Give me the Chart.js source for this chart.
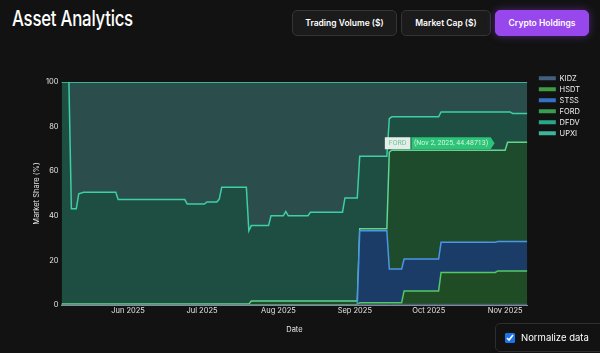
<!DOCTYPE html>
<html>
<head>
<meta charset="utf-8">
<title>Asset Analytics</title>
<script src="https://cdn.jsdelivr.net/npm/chart.js@4.4.1/dist/chart.umd.min.js"></script>
<style>
  body {
    margin: 0;
    width: 600px;
    height: 353px;
    overflow: hidden;
    position: relative;
    background: #121212;
    font-family: Inter, "Noto Sans", sans-serif;
    color: #fff;
  }
  h1 {
    position: absolute;
    left: 12px;
    top: 6px;
    margin: 0;
    font-size: 21px;
    font-weight: 500;
    letter-spacing: -0.3px;
    transform: scaleX(0.8);
    transform-origin: left center;
    white-space: nowrap;
  }
  .btns {
    position: absolute;
    top: 10px;
    left: 292px;
    display: flex;
    gap: 4px;
  }
  .btn {
    box-sizing: border-box;
    height: 26px;
    border: 1px solid #343434;
    border-radius: 5px;
    background: #1b1b1b;
    color: #fff;
    font-size: 8.5px;
    font-weight: 600;
    white-space: nowrap;
    display: flex;
    align-items: center;
    justify-content: center;
  }
  .btn.active {
    background: #9747ec;
    border-color: #9747ec;
    box-shadow: 0 0 8px rgba(151, 71, 236, 0.45);
  }
  #wrap {
    position: absolute;
    left: 0;
    top: 60px;
    width: 600px;
    height: 285px;
  }
  .norm {
    position: absolute;
    left: 495px;
    top: 323px;
    width: 120px;
    height: 27px;
    border: 1px solid #2e2e2e;
    border-radius: 5px;
    display: flex;
    align-items: center;
    font-size: 9.5px;
  }
  .norm input {
    margin: 0 6px 0 9px;
    width: 10px;
    height: 10px;
    accent-color: #1a73e8;
  }
</style>
</head>
<body>
<h1>Asset Analytics</h1>
<div class="btns">
  <div class="btn" style="width:105px">Trading Volume ($)</div>
  <div class="btn" style="width:90px">Market Cap ($)</div>
  <div class="btn active" style="width:94px">Crypto Holdings</div>
</div>
<div id="wrap"><canvas id="holdingsChart"></canvas></div>
<label class="norm"><input type="checkbox" checked>Normalize data</label>

<script>
// share of holdings (%), one value per date, stacked bottom -> top
const dates = [
  '2025-05-05', '2025-05-08', '2025-05-09', '2025-05-11', '2025-05-12', '2025-05-14',
  '2025-05-27', '2025-05-28', '2025-06-24', '2025-06-25', '2025-07-02', '2025-07-03',
  '2025-07-07', '2025-07-08', '2025-07-09', '2025-07-19', '2025-07-20', '2025-07-21',
  '2025-07-28', '2025-07-29', '2025-08-03', '2025-08-04', '2025-08-05', '2025-08-13',
  '2025-08-14', '2025-08-27', '2025-08-28', '2025-09-02', '2025-09-03', '2025-09-14',
  '2025-09-15', '2025-09-16', '2025-09-20', '2025-09-21', '2025-10-05', '2025-10-06',
  '2025-10-28', '2025-10-29', '2025-11-01', '2025-11-02', '2025-11-03', '2025-11-04',
  '2025-11-10'
];
const assets = ['KIDZ', 'HSDT', 'STSS', 'FORD', 'DFDV', 'UPXI'];

const kidz = [0, 0, 0, 0, 0, 0, 0, 0, 0, 0, 0, 0, 0, 0, 0, 0, 0, 0, 0, 0, 0, 0, 0, 0, 0, 0, 0, 0,
  0.3, 0.3, 0.3, 0.3, 0.3, 0.3, 0.3, 0.3, 0.3, 0.3, 0.3, 0.3, 0.3, 0.3, 0.3];
const hsdt = [0, 0, 0, 0, 0, 0, 0, 0, 0, 0, 0, 0, 0, 0, 0, 0, 0, 0, 0, 0, 0, 0, 0, 0, 0, 0, 0, 0,
  0.7, 0.7, 0.7, 0.7, 0.7, 6.0, 6.0, 14.3, 14.3, 15.0, 15.0, 15.0, 15.0, 15.0, 15.0];
const stss = [0, 0, 0, 0, 0, 0, 0, 0, 0, 0, 0, 0, 0, 0, 0, 0, 0, 0, 0, 0, 0, 0, 0, 0, 0, 0, 0, 0,
  32.3, 32.3, 15.1, 15.1, 15.1, 14.3, 14.3, 13.5, 13.5, 13.2, 13.2, 13.2, 13.2, 13.2, 13.2];
const ford = [0.4, 0.4, 0.4, 0.4, 0.4, 0.4, 0.4, 0.4, 0.4, 0.4, 0.4, 0.4, 0.4, 0.4, 0.4, 0.4, 0.4,
  1.8, 1.8, 1.8, 1.8, 1.8, 1.8, 1.8, 1.8, 1.8, 1.8, 1.8,
  0.9, 0.9, 52.5, 53.3, 53.3, 48.8, 48.8, 41.3, 41.3, 40.9, 40.9, 44.48713, 44.5, 44.5, 44.5];
const dfdv = [99.6, 99.6, 42.8, 42.8, 49.5, 50.2, 50.2, 46.9, 46.9, 44.9, 44.9, 45.8, 45.8, 47.1,
  52.4, 52.4, 32.9, 33.8, 33.8, 38.2, 38.2, 40.1, 38.2, 38.2, 39.8, 39.8, 46.2, 46.2,
  32.5, 32.5, 15.0, 15.0, 15.0, 15.0, 15.0, 17.2, 17.2, 17.2, 17.2, 13.6, 13.6, 12.9, 12.9];
const upxi = [0, 0, 56.8, 56.8, 50.1, 49.4, 49.4, 52.7, 52.7, 54.7, 54.7, 53.8, 53.8, 52.5,
  47.2, 47.2, 66.7, 64.4, 64.4, 60, 60, 58.1, 60, 60, 58.4, 58.4, 52, 52,
  33.3, 33.3, 16.4, 15.6, 15.6, 15.6, 15.6, 13.4, 13.4, 13.4, 13.4, 13.4, 13.4, 14.1, 14.1];

const monthTicks = ['2025-06-01', '2025-07-01', '2025-08-01', '2025-09-01', '2025-10-01', '2025-11-01'];
const yTicks = [0, 20, 40, 60, 80, 100];
const rangeStart = '2025-05-05';
const rangeEnd = '2025-11-10';
const hoverAsset = 'FORD';
const hoverDate = '2025-11-02';

const lineColors = ['#4f6f92', '#56c66a', '#4b97e6', '#62d690', '#3dcfa6', '#44d4b6'];
const fillColors = ['#1c2a38', '#1f4c25', '#1b3c66', '#1f4b2d', '#1e4e42', '#2b4e4c'];
const legendColors = ['#40607e', '#3f9c45', '#3572c6', '#3a9c52', '#2aa68b', '#3fb39c'];

const MONTHS = ['Jan', 'Feb', 'Mar', 'Apr', 'May', 'Jun', 'Jul', 'Aug', 'Sep', 'Oct', 'Nov', 'Dec'];
const DAY = 86400000;
const toDay = s => Date.parse(s + 'T00:00:00Z') / DAY;
const fmtMonth = d => {
    const dt = new Date(d * DAY);
    return MONTHS[dt.getUTCMonth()] + ' ' + dt.getUTCFullYear();
};

const series = [kidz, hsdt, stss, ford, dfdv, upxi];

Chart.defaults.font.family = 'Inter, "Noto Sans", sans-serif';
Chart.defaults.color = '#dcdcdc';

// little hover label, like the one on the screenshot
const hoverLabel = {
    id: 'hoverLabel',
    afterDraw(chart) {
        const ds = assets.indexOf(hoverAsset);
        const i = dates.indexOf(hoverDate);
        const pt = chart.getDatasetMeta(ds).data[i];
        if (!pt) return;
        const ctx = chart.ctx;
        const dt = new Date(toDay(hoverDate) * DAY);
        const text = '(' + MONTHS[dt.getUTCMonth()] + ' ' + dt.getUTCDate() + ', ' + dt.getUTCFullYear() + ', ' + series[ds][i] + ')';
        ctx.save();
        ctx.font = '7px Roboto';
        ctx.textBaseline = 'middle';
        const tw = ctx.measureText(text).width + 5;
        const nw = ctx.measureText(hoverAsset).width + 8;
        const h = 12;
        const tip = pt.x - 13;
        const right = tip - 4;
        const y = pt.y + 1;
        ctx.fillStyle = '#2cc477';
        ctx.beginPath();
        ctx.moveTo(right - tw, y - h / 2);
        ctx.lineTo(right, y - h / 2);
        ctx.lineTo(tip, y);
        ctx.lineTo(right, y + h / 2);
        ctx.lineTo(right - tw, y + h / 2);
        ctx.closePath();
        ctx.fill();
        ctx.fillStyle = '#e2efe8';
        ctx.fillRect(right - tw - nw - 1, y - h / 2, nw, h);
        ctx.fillStyle = '#d4f3e0';
        ctx.fillText(text, right - tw + 2.5, y + 0.5);
        ctx.fillStyle = '#72c197';
        ctx.fillText(hoverAsset, right - tw - nw + 3, y + 0.5);
        ctx.restore();
    }
};

// put the legend just right of the plot, level with its top
const legendNudge = {
    id: 'legendNudge',
    afterLayout(chart) {
        const lg = chart.legend;
        const w = lg.width, h = lg.height;
        lg.left = chart.chartArea.right + 8;
        lg.right = lg.left + w;
        lg.top = chart.chartArea.top - 11;
        lg.bottom = lg.top + h;
    }
};

const ctx = document.getElementById('holdingsChart').getContext('2d');
new Chart(ctx, {
    type: 'line',
    data: {
        datasets: assets.map((name, k) => ({
            label: name,
            data: dates.map((d, i) => ({ x: toDay(d), y: series[k][i] })),
            borderColor: lineColors[k],
            backgroundColor: fillColors[k],
            borderWidth: k === 0 ? 1 : 1.5,
            pointRadius: 0,
            tension: 0,
            fill: k === 0 ? 'origin' : '-1'
        }))
    },
    options: {
        responsive: true,
        maintainAspectRatio: false,
        animation: false,
        layout: { padding: { left: 22, right: 18, top: 22, bottom: 7 } },
        plugins: {
            tooltip: { enabled: false },
            legend: {
                position: 'right',
                align: 'start',
                labels: {
                    boxWidth: 17,
                    boxHeight: 4,
                    padding: 3.5,
                    color: '#eeeeee',
                    font: { size: 7.5 },
                    generateLabels(chart) {
                        return chart.data.datasets.map((ds, k) => ({
                            text: ds.label,
                            fillStyle: legendColors[k],
                            strokeStyle: legendColors[k],
                            fontColor: '#eeeeee',
                            lineWidth: 0,
                            hidden: false,
                            datasetIndex: k
                        }));
                    }
                }
            }
        },
        scales: {
            x: {
                type: 'linear',
                min: toDay(rangeStart),
                max: toDay(rangeEnd),
                z: 1,
                afterBuildTicks(scale) {
                    scale.ticks = monthTicks.map(m => ({ value: toDay(m) }));
                },
                ticks: {
                    autoSkip: false,
                    maxRotation: 0,
                    padding: 1,
                    color: '#e4e4e4',
                    font: { size: 7.5 },
                    callback: v => fmtMonth(v)
                },
                grid: { color: 'rgba(255,255,255,0.08)', drawTicks: false },
                border: { color: '#8a8a8a' },
                title: { display: true, text: 'Date', color: '#e4e4e4', font: { size: 7.5 }, padding: { top: 9, bottom: 4 } }
            },
            y: {
                stacked: true,
                min: 0,
                max: 100,
                z: 1,
                afterBuildTicks(scale) {
                    scale.ticks = yTicks.map(v => ({ value: v }));
                },
                ticks: { padding: 3, color: '#e4e4e4', font: { size: 7.5 } },
                grid: { color: 'rgba(255,255,255,0.08)', drawTicks: false },
                border: { display: false },
                title: { display: true, text: 'Market Share (%)', color: '#e4e4e4', font: { size: 7.5 }, padding: { top: 10, bottom: 2 } }
            }
        }
    },
    plugins: [legendNudge, hoverLabel]
});
</script>
</body>
</html>
